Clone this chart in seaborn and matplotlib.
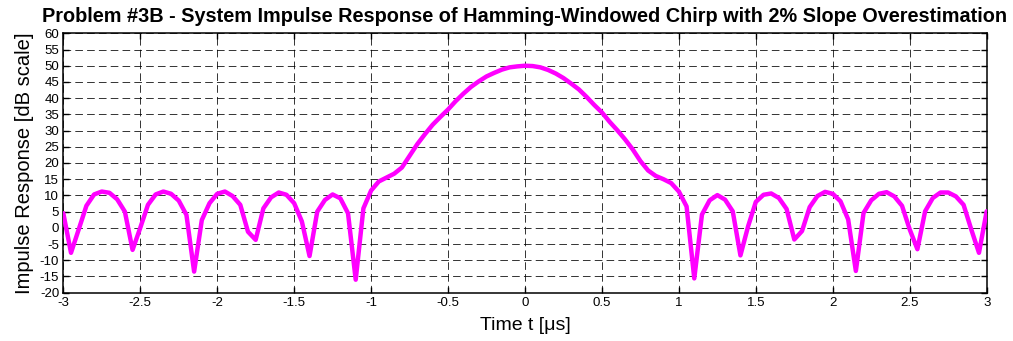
import numpy as np
import pandas as pd
import matplotlib
matplotlib.use("Agg")
import matplotlib.pyplot as plt
import seaborn as sns

# Time samples [us] and impulse response [dB]
time_us = [
    -3.00, -2.95, -2.90, -2.85, -2.80, -2.75, -2.70, -2.65, -2.60, -2.55,
    -2.50, -2.45, -2.40, -2.35, -2.30, -2.25, -2.20, -2.15, -2.10, -2.05,
    -2.00, -1.95, -1.90, -1.85, -1.80, -1.75, -1.70, -1.65, -1.60, -1.55,
    -1.50, -1.45, -1.40, -1.35, -1.30, -1.25, -1.20, -1.15, -1.10, -1.05,
    -1.00, -0.95, -0.90, -0.85, -0.80, -0.75, -0.70, -0.65, -0.60, -0.55,
    -0.50, -0.45, -0.40, -0.35, -0.30, -0.25, -0.20, -0.15, -0.10, -0.05,
    0.00, 0.05, 0.10, 0.15, 0.20, 0.25, 0.30, 0.35, 0.40, 0.45,
    0.50, 0.55, 0.60, 0.65, 0.70, 0.75, 0.80, 0.85, 0.90, 0.95,
    1.00, 1.05, 1.10, 1.15, 1.20, 1.25, 1.30, 1.35, 1.40, 1.45,
    1.50, 1.55, 1.60, 1.65, 1.70, 1.75, 1.80, 1.85, 1.90, 1.95,
    2.00, 2.05, 2.10, 2.15, 2.20, 2.25, 2.30, 2.35, 2.40, 2.45,
    2.50, 2.55, 2.60, 2.65, 2.70, 2.75, 2.80, 2.85, 2.90, 2.95,
    3.00,
]
response_db = [
    4.5, -7.7, -0.5, 6.8, 10.3, 11.2, 10.8, 8.8, 5.0, -6.8,
    0.0, 7.1, 10.3, 11.2, 10.5, 8.4, 4.0, -13.5, 2.4, 7.6,
    10.5, 11.2, 9.8, 7.1, -1.2, -3.7, 6.0, 9.4, 10.9, 10.2,
    7.6, 2.0, -8.7, 5.0, 8.6, 10.3, 9.1, 4.5, -16.0, 6.0,
    11.5, 14.3, 15.5, 16.7, 18.6, 22.2, 25.8, 28.9, 31.8, 34.2,
    36.5, 39.1, 41.4, 43.5, 45.2, 46.7, 47.8, 48.8, 49.5, 49.8,
    50.0, 49.9, 49.5, 48.7, 47.6, 46.2, 44.5, 42.7, 40.4, 37.9,
    35.6, 32.7, 30.1, 27.3, 24.2, 20.6, 17.7, 16.0, 15.0, 13.8,
    11.2, 6.6, -15.6, 4.1, 8.5, 10.1, 8.7, 5.1, -8.5, 0.5,
    8.0, 10.2, 10.6, 9.2, 5.8, -3.6, -1.0, 6.4, 9.8, 11.1,
    10.5, 8.2, 2.6, -13.3, 4.6, 8.5, 10.5, 11.0, 9.7, 6.8,
    -0.5, -6.6, 5.1, 9.2, 10.9, 10.9, 9.7, 7.1, -0.5, -7.7,
    5.1,
]
x_ticks = [-3, -2.5, -2, -1.5, -1, -0.5, 0, 0.5, 1, 1.5, 2, 2.5, 3]
x_tick_labels = ["-3", "-2.5", "-2", "-1.5", "-1", "-0.5", "0", "0.5", "1", "1.5", "2", "2.5", "3"]
y_ticks = list(range(-20, 61, 5))
y_tick_labels = [str(v) for v in y_ticks]

df = pd.DataFrame({"t": time_us, "h": response_db})

sns.set_theme(style="white")
plt.rcParams["font.family"] = ["Liberation Sans", "DejaVu Sans"]
plt.rcParams["lines.scale_dashes"] = False

fig = plt.figure(figsize=(10.13, 3.41), dpi=100)
ax = fig.add_axes([0.0625, 0.1417, 0.9115, 0.7606])

sns.lineplot(data=df, x="t", y="h", ax=ax, color="#FF00FF", linewidth=3.2,
             estimator=None, sort=False, zorder=3)

ax.set_xlim(-3, 3)
ax.set_ylim(-20, 60)
ax.set_xticks(x_ticks)
ax.set_xticklabels(x_tick_labels)
ax.set_yticks(y_ticks)
ax.set_yticklabels(y_tick_labels)

ax.grid(True, color="black", linestyle=(0, (5.5, 3)), linewidth=0.7, alpha=0.8)
ax.tick_params(axis="both", direction="in", length=4, width=1.0, color="black",
               labelsize=9.5, labelcolor="black", pad=3,
               top=True, right=True, bottom=True, left=True)
for s in ax.spines.values():
    s.set_color("black")
    s.set_linewidth(1.1)
    s.set_visible(True)

ax.set_xlabel("Time t [\u03bcs]", fontsize=14, color="black", labelpad=6)
ax.set_ylabel("Impulse Response [dB scale]", fontsize=14.5, color="black", labelpad=4)
ax.set_title("Problem #3B - System Impulse Response of Hamming-Windowed Chirp with 2% Slope Overestimation",
             fontsize=14.3, fontweight="bold", color="black", pad=8)

fig.savefig("out.png", dpi=100, facecolor="white")
